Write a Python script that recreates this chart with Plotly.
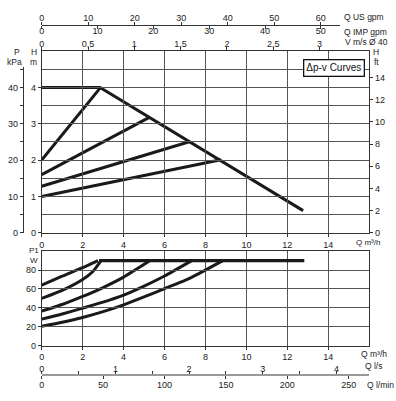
import plotly.graph_objects as go

W, H = 396, 401

# ---------------- data ----------------
q_ticks = [0, 2, 4, 6, 8, 10, 12, 14]
h_ticks = [0, 1, 2, 3, 4]
ft_ticks = [0, 2, 4, 6, 8, 10, 12, 14]
kpa_ticks = [0, 10, 20, 30, 40]
kpa_minor = [5, 15, 25, 35, 45]
p_ticks = [0, 20, 40, 60, 80]
v_ticks = [0, 0.5, 1, 1.5, 2, 2.5, 3]
v_labels = ["0", "0,5", "1", "1,5", "2", "2,5", "3"]
usgpm_ticks = [0, 10, 20, 30, 40, 50, 60]
impgpm_ticks = [0, 10, 20, 30, 40, 50]
ls_ticks = [0, 1, 2, 3, 4]
ls_minor = [0.5, 1.5, 2.5, 3.5]
lmin_ticks = [0, 50, 100, 150, 200, 250]

# head curves (Q m3/h, H m)
hmax_q = [0, 2.85, 12.77]
hmax_h = [4.0, 4.0, 0.61]
dpv1_q = [0, 2.85]
dpv1_h = [2.0, 3.98]
dpv2_q = [0, 5.28]
dpv2_h = [1.6, 3.18]
dpv3_q = [0, 7.25]
dpv3_h = [1.28, 2.51]
dpv4_q = [0, 8.75]
dpv4_h = [1.0, 2.01]

# power curves (Q m3/h, P1 W)
pmax_q = [2.8, 12.83]
pmax_w = [90, 90]
p1_q = [0, 1, 2, 2.75]
p1_w = [64, 73.5, 82.5, 90]
p2_q = [0, 1, 2, 2.5, 2.9]
p2_w = [50, 58.5, 70, 78.5, 90]
p3_q = [0, 1, 2, 3, 4, 5.3]
p3_w = [36.5, 43.5, 52, 61.5, 72.5, 90]
p4_q = [0, 1, 2, 3, 4, 5, 6, 7.33]
p4_w = [28, 33.5, 39.7, 46, 53.4, 63, 73.7, 90]
p5_q = [0, 1, 2, 3, 4, 5, 6, 7, 7.6, 8.85]
p5_w = [20.5, 24.8, 29.8, 36, 43.2, 51.5, 60.4, 69, 75.4, 90]

# unit conversions
M3H_PER_USGPM = 0.22712
M3H_PER_IMPGPM = 0.272765
M3H_PER_MS_D40 = 4.5239  # m3/h for 1 m/s in DN40
M3H_PER_LS = 3.6
M3H_PER_LMIN = 0.06
M_PER_FT = 0.3048
M_PER_KPA = 0.1

# ---------------- layout helpers ----------------
def px(x):
    return x / W

def py(y):
    return 1 - y / H

X0, X1 = 39, 369
Q_MAX = 16
MAIN_Y0, MAIN_Y1 = 235.7, 51.7
H_MAX = 5
LOW_Y0, LOW_Y1 = 350, 254.3
P_MAX = 100

def qpx(q):
    return X0 + (X1 - X0) * q / Q_MAX

def hpy(h):
    return MAIN_Y0 - (MAIN_Y0 - MAIN_Y1) * h / H_MAX

FONT = "Liberation Sans, Arial, sans-serif"
TXT = "#222222"
GRID = "#555555"
CURVE = "#1a1a1a"
tf = dict(family=FONT, size=9, color=TXT)

fig = go.Figure()

def curve(xs, ys, xa, ya, w=3.0, shape="linear"):
    fig.add_trace(go.Scatter(x=xs, y=ys, xaxis=xa, yaxis=ya, mode="lines",
                             line=dict(color=CURVE, width=w, shape=shape, smoothing=0.5),
                             hoverinfo="skip", showlegend=False))

def dummy(xa, ya):
    fig.add_trace(go.Scatter(x=[0], y=[0], xaxis=xa, yaxis=ya, mode="markers",
                             marker=dict(opacity=0), hoverinfo="skip", showlegend=False))

# main plot curves
curve(hmax_q, hmax_h, "x", "y")
curve(dpv1_q, dpv1_h, "x", "y")
curve(dpv2_q, dpv2_h, "x", "y")
curve(dpv3_q, dpv3_h, "x", "y")
curve(dpv4_q, dpv4_h, "x", "y")
# lower plot curves
curve(pmax_q, pmax_w, "x5", "y4", 3.3)
curve(p1_q, p1_w, "x5", "y4", shape="spline")
curve(p2_q, p2_w, "x5", "y4", shape="spline")
curve(p3_q, p3_w, "x5", "y4", shape="spline")
curve(p4_q, p4_w, "x5", "y4", shape="spline")
curve(p5_q, p5_w, "x5", "y4", shape="spline")

# dummies for secondary axes
dummy("x2", "y")
dummy("x", "y2")
dummy("x", "y3")
dummy("x3", "y")
dummy("x4", "y")
dummy("x6", "y4")
dummy("x7", "y4")

dom_x = [px(X0), px(X1)]
dom_main_y = [py(MAIN_Y0), py(MAIN_Y1)]
dom_low_y = [py(LOW_Y0), py(LOW_Y1)]

common = dict(tickfont=tf, ticks="outside", ticklen=3, tickcolor="#333", tickwidth=1,
              zeroline=False, fixedrange=True)

GPM_Y = 25
GPM_QEND = 14.55
KPA_END = 45.5
SCALE_Y = 380

fig.update_layout(
    width=W, height=H, margin=dict(l=0, r=0, t=0, b=0),
    paper_bgcolor="white", plot_bgcolor="rgba(0,0,0,0)",
    font=dict(family=FONT, size=9, color=TXT),
    xaxis=dict(domain=dom_x, range=[0, Q_MAX], anchor="y", tickvals=q_ticks,
               showgrid=True, gridcolor=GRID, gridwidth=1,
               minor=dict(tickvals=[16], showgrid=True, gridcolor=GRID, ticks=""),
               showline=True, linecolor="#333", linewidth=1, mirror=True, **common),
    yaxis=dict(domain=dom_main_y, range=[0, H_MAX], anchor="x", tickvals=h_ticks,
               showgrid=True, gridcolor=GRID, gridwidth=1,
               minor=dict(dtick=0.5, showgrid=True, gridcolor=GRID, ticks=""),
               showline=True, linecolor="#333", linewidth=1, mirror=True, **common),
    yaxis2=dict(overlaying="y", side="right", anchor="x", range=[0, H_MAX / M_PER_FT],
                tickvals=ft_ticks, showgrid=False, showline=False, **common),
    yaxis3=dict(anchor="free", position=px(20), side="left",
                domain=[py(MAIN_Y0), py(hpy(KPA_END * M_PER_KPA))],
                range=[0, KPA_END], tickvals=kpa_ticks + kpa_minor,
                ticktext=[str(v) for v in kpa_ticks] + [""] * len(kpa_minor),
                showgrid=False, showline=True, linecolor="#333", linewidth=1, **common),
    xaxis2=dict(overlaying="x", side="top", anchor="y", range=[0, Q_MAX / M3H_PER_MS_D40],
                tickvals=v_ticks, ticktext=v_labels, showgrid=False, showline=False,
                ticklabelstandoff=-4, **common),
    xaxis3=dict(anchor="free", position=py(GPM_Y), side="top",
                domain=[px(X0), px(qpx(GPM_QEND))], range=[0, GPM_QEND / M3H_PER_USGPM],
                tickvals=usgpm_ticks, showgrid=False, showline=True, linecolor="#333",
                linewidth=1.2, ticklabelstandoff=-3, **common),
    xaxis4=dict(anchor="free", position=py(GPM_Y), side="bottom",
                domain=[px(X0), px(qpx(GPM_QEND))], range=[0, GPM_QEND / M3H_PER_IMPGPM],
                tickvals=impgpm_ticks, showgrid=False, showline=False,
                ticklabelstandoff=-5, **common),
    xaxis5=dict(domain=dom_x, range=[0, Q_MAX], anchor="y4", tickvals=q_ticks,
                showgrid=True, gridcolor=GRID, gridwidth=1,
                minor=dict(tickvals=[16], showgrid=True, gridcolor=GRID, ticks=""),
                showline=True, linecolor="#333", linewidth=1, mirror=True, **common),
    yaxis4=dict(domain=dom_low_y, range=[0, P_MAX], anchor="x5", tickvals=p_ticks,
                showgrid=True, gridcolor=GRID, gridwidth=1,
                showline=True, linecolor="#333", linewidth=1, mirror=True, **common),
    xaxis6=dict(anchor="free", position=py(SCALE_Y), side="top",
                domain=dom_x, range=[0, Q_MAX / M3H_PER_LS],
                tickvals=ls_ticks + ls_minor,
                ticktext=[str(v) for v in ls_ticks] + [""] * len(ls_minor),
                showgrid=False, showline=True, linecolor="#999", linewidth=2,
                ticklabelstandoff=-4, **common),
    xaxis7=dict(anchor="free", position=py(SCALE_Y), side="bottom",
                domain=dom_x, range=[0, Q_MAX / M3H_PER_LMIN],
                tickvals=lmin_ticks, showgrid=False, showline=False,
                ticklabelstandoff=-2, **common),
)

def label(text, x, y, xanchor="center", size=8.5):
    fig.add_annotation(text=text, x=px(x), y=py(y), xref="paper", yref="paper",
                       showarrow=False, xanchor=xanchor, yanchor="middle",
                       font=dict(family=FONT, size=size, color=TXT))

label("P", 14, 53)
label("kPa", 12, 63)
label("H", 31, 53)
label("m", 31, 63)
label("H", 376, 53)
label("ft", 376, 63)
label("P1", 31, 253.5, size=8)
label("W", 31, 264, size=8)
label("Q US gpm", 342, 17, "left")
label("Q IMP gpm", 342, 32, "left")
label("V m/s Ø 40", 343, 43, "left")
label("Q m³/h", 354, 246, "left", size=8)
label("Q m³/h", 359, 358, "left")
label("Q l/s", 363, 371, "left")
label("Q l/min", 365, 390, "left")

fig.add_annotation(text="Δp-v Curves", x=px(334), y=py(68.5), xref="paper", yref="paper",
                   showarrow=False, xanchor="center", yanchor="middle",
                   font=dict(family=FONT, size=10, color="#111"),
                   bordercolor="#111", borderwidth=1.3, borderpad=2, bgcolor="white")

fig.write_html("out.html", config={"displayModeBar": False},
               post_script="document.body.style.margin='0';document.body.style.overflow='hidden';")
